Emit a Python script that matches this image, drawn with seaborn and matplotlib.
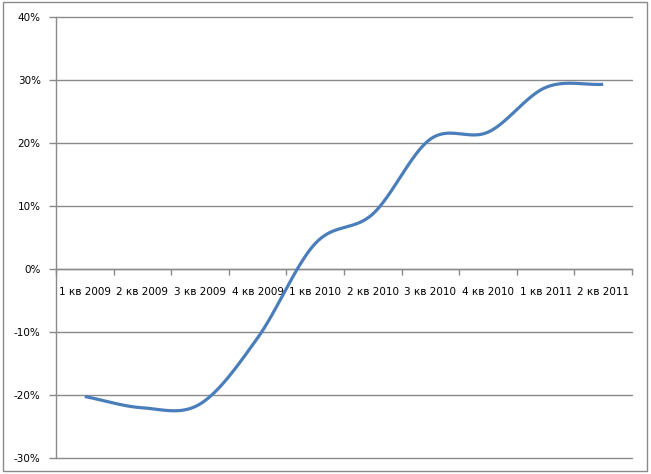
import numpy as np
import pandas as pd
import matplotlib
matplotlib.use("Agg")
import matplotlib.pyplot as plt
import seaborn as sns
from matplotlib.ticker import FixedLocator, FuncFormatter

categories = ["1 кв 2009", "2 кв 2009", "3 кв 2009", "4 кв 2009", "1 кв 2010",
              "2 кв 2010", "3 кв 2010", "4 кв 2010", "1 кв 2011", "2 кв 2011"]
values = [-20.3, -22.1, -21.5, -11.0, 4.0, 8.7, 20.6, 21.7, 28.8, 29.3]
y_ticks = [-30, -20, -10, 0, 10, 20, 30, 40]

sns.set_theme(style="white")
plt.rcParams['font.family'] = ['DejaVu Sans']

def smooth(xs, ys, n=40):
    # Catmull-Rom rendering of the line (Excel "smoothed line" style)
    xs = np.asarray(xs, float); ys = np.asarray(ys, float)
    px = np.concatenate([[2*xs[0]-xs[1]], xs, [2*xs[-1]-xs[-2]]])
    py = np.concatenate([[2*ys[0]-ys[1]], ys, [2*ys[-1]-ys[-2]]])
    ox, oy = [], []
    for i in range(1, len(px)-2):
        t = np.linspace(0, 1, n, endpoint=(i == len(px)-3))
        for arr, out in ((px, ox), (py, oy)):
            p0, p1, p2, p3 = arr[i-1], arr[i], arr[i+1], arr[i+2]
            out.extend(0.5*((2*p1) + (-p0+p2)*t + (2*p0-5*p1+4*p2-p3)*t**2 + (-p0+3*p1-3*p2+p3)*t**3))
    return np.array(ox), np.array(oy)

xpos = np.arange(len(categories))
sx, sy = smooth(xpos, values)
df = pd.DataFrame({"x": sx, "y": sy, "order": np.arange(len(sx))})

fig = plt.figure(figsize=(6.51, 4.74), dpi=100)
W, H = 651, 474
ax = fig.add_axes([56/W, (H-457.5)/H, 576/W, 440.5/H])

grid_c = "#8a8a8a"
for v in y_ticks:
    ax.axhline(v, color=grid_c, lw=1.0, zorder=1, clip_on=False)

sns.lineplot(data=df, x="x", y="y", sort=False, ax=ax, color="#4A7EBB",
             linewidth=2.3, zorder=3, solid_capstyle="butt")

ax.set_xlim(-0.5, len(categories)-0.5)
ax.set_ylim(-30, 40)
ax.set_xlabel("")
ax.set_ylabel("")

for s in ("top", "right"):
    ax.spines[s].set_visible(False)
ax.spines["left"].set_color(grid_c)
ax.spines["left"].set_linewidth(1.0)
ax.spines["bottom"].set_position(("data", 0))
ax.spines["bottom"].set_color(grid_c)
ax.spines["bottom"].set_linewidth(1.0)

ax.yaxis.set_major_locator(FixedLocator(y_ticks))
ax.yaxis.set_major_formatter(FuncFormatter(lambda v, p: f"{int(round(v))}%"))
ax.tick_params(axis="y", which="major", direction="out", length=5, width=1,
               color=grid_c, pad=6, labelsize=7.5, labelcolor="black", left=True)

ax.xaxis.set_major_locator(FixedLocator(xpos))
ax.set_xticklabels(categories)
ax.xaxis.set_minor_locator(FixedLocator(np.arange(len(categories)+1) - 0.5))
ax.tick_params(axis="x", which="major", length=0, pad=13, labelsize=7.5,
               labelcolor="black", bottom=True)
ax.tick_params(axis="x", which="minor", direction="out", length=4, width=1,
               color=grid_c, bottom=True)

border = plt.Rectangle((3/W, (H-471)/H), 644/W, 469/H, transform=fig.transFigure,
                       fill=False, edgecolor=grid_c, lw=1.0)
fig.patches.append(border)

fig.savefig("out.png", dpi=100, facecolor="white")
